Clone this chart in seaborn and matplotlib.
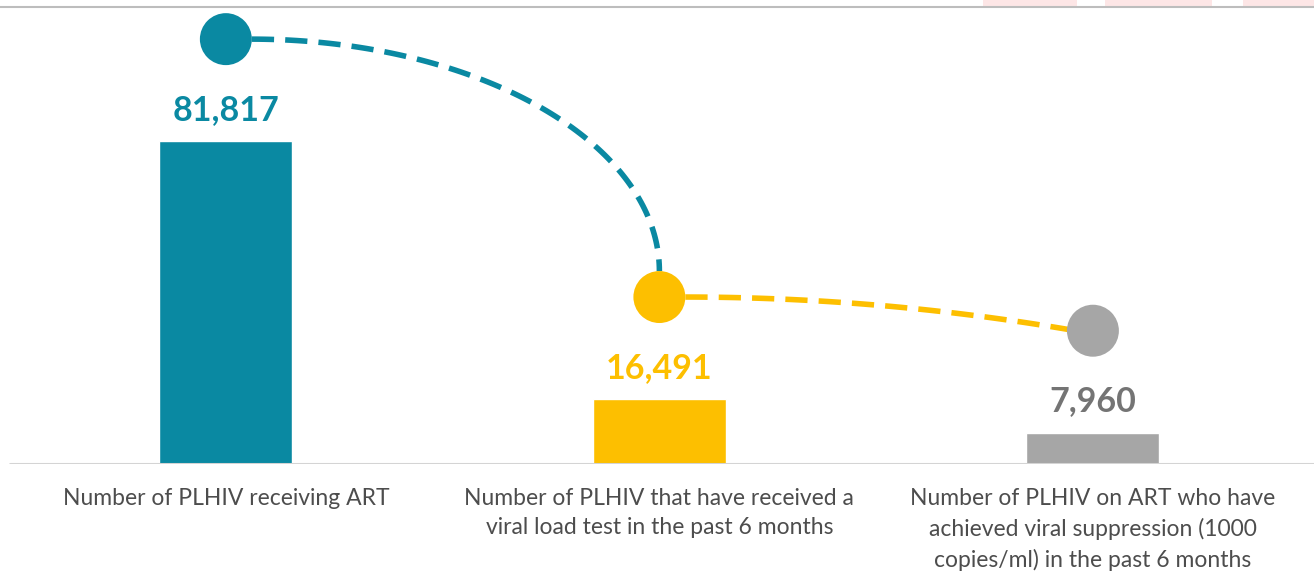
import numpy as np
import matplotlib
matplotlib.use('Agg')
import matplotlib.pyplot as plt
from matplotlib.lines import Line2D
from matplotlib.patches import Rectangle
import seaborn as sns

categories = ['Number of PLHIV receiving ART',
              'Number of PLHIV that have received a\nviral load test in the past 6 months',
              'Number of PLHIV on ART who have\nachieved viral suppression (1000\ncopies/ml) in the past 6 months']
values = [81817, 16491, 7960]
bar_colors = ['#0a89a2', '#fdbf00', '#a6a6a6']
label_colors = ['#0a89a2', '#fdbf00', '#747474']

sns.set_style('white')
plt.rcParams['font.family'] = ['Lato', 'DejaVu Sans']

fig = plt.figure(figsize=(13.14, 5.88), dpi=100)
ax = fig.add_axes([0, 124 / 588, 1, 464 / 588])

sns.barplot(x=categories, y=values, hue=categories, palette=bar_colors,
            width=0.307, legend=False, saturation=1, ax=ax)

ax.set_xlim(-0.521, 2.510)
ax.set_ylim(0, 117530)
sns.despine(ax=ax, left=True, bottom=True, top=True, right=True)
ax.set_yticks([])
ax.tick_params(axis='x', length=0, pad=17)
for lbl in ax.get_xticklabels():
    lbl.set_fontsize(16.5)
    lbl.set_color('#4d4d4d')
    lbl.set_linespacing(1.5)
    lbl.set_verticalalignment('top')
ax.set_ylabel('')
ax.axhline(0, xmin=10 / 1314, xmax=1, color='#d4d4d4', lw=2.2, zorder=5)

# value labels
for i, v in enumerate(values):
    ax.annotate(f'{v:,}', (i, v), xytext=(0, 11), textcoords='offset points',
                ha='center', va='bottom', fontsize=24.5, fontweight='bold',
                color=label_colors[i])

# circles above the bars
offset = 25800
circ_y = [v + offset for v in values]
ax.scatter(range(3), circ_y, s=1400, c=bar_colors, zorder=6, linewidths=0)

# dashed connectors
rx = 26 / 433.5
ry = 26 / 0.003948
t = np.linspace(0, np.pi / 2, 100)
x1 = rx + (1 - rx) * np.sin(t)
y1 = circ_y[0] - (circ_y[0] - circ_y[1] - ry) * (1 - np.cos(t))
ax.plot(x1, y1, color=bar_colors[0], lw=4, dashes=(4, 2.0), zorder=4)

u = np.linspace(0, 1, 100)
x2 = 1 + rx + (1 - 2 * rx + 0.02) * u
y2 = circ_y[1] - (circ_y[1] - circ_y[2]) * u ** 2
ax.plot(x2, y2, color=bar_colors[1], lw=4, dashes=(4, 2.0), zorder=4)

# top decoration
fig.add_artist(Line2D([0, 1], [1 - 7 / 588, 1 - 7 / 588], color='#bdbdbd', lw=1.5))
for a, b in [(983, 1077), (1105, 1212), (1243, 1314)]:
    fig.add_artist(Rectangle((a / 1314, 1 - 7 / 588), (b - a) / 1314, 7 / 588,
                             color='#fde6e6', lw=0))

plt.savefig('out.png', dpi=100)
